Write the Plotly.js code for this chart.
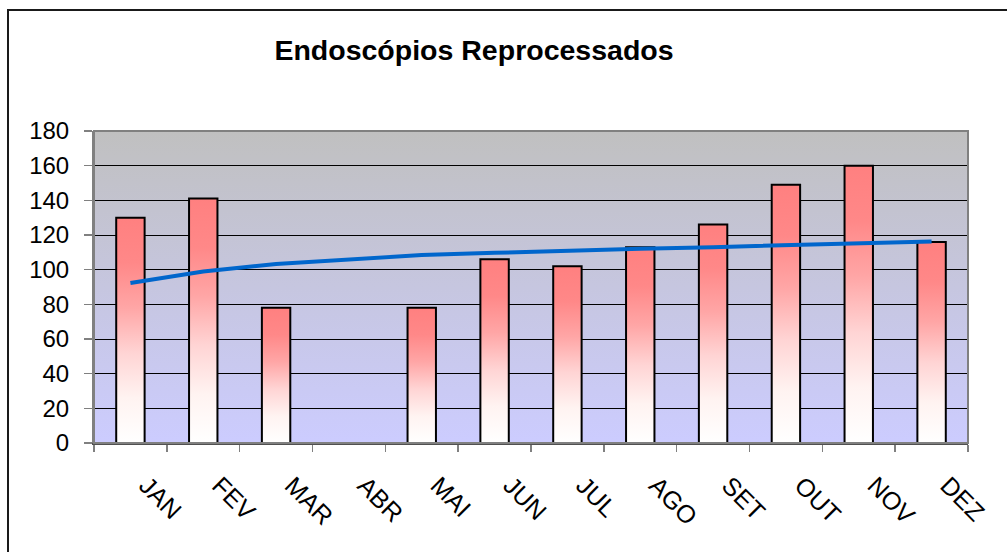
<!DOCTYPE html>
<html>
<head>
<meta charset="utf-8">
<script src="https://cdn.plot.ly/plotly-3.0.1.min.js"></script>
<style>
  html, body { margin: 0; padding: 0; background: #ffffff; }
  #chart { width: 1007px; height: 552px; }
</style>
</head>
<body>
<div id="chart"></div>
<script>
// ---- data ----
var months = ["JAN", "FEV", "MAR", "ABR", "MAI", "JUN", "JUL", "AGO", "SET", "OUT", "NOV", "DEZ"];
var reprocessados = [130, 141, 78, null, 78, 106, 102, 113, 126, 149, 160, 116];
var tendencia = [92.3, 98.9, 103.3, 106.0, 108.4, 109.7, 111.0, 112.0, 113.0, 114.2, 115.2, 116.3];
var yTicks = [0, 20, 40, 60, 80, 100, 120, 140, 160, 180];
var chartTitle = "Endoscópios Reprocessados";

// ---- styling ----
var FONT = "Arial, 'Liberation Sans', Helvetica, sans-serif";
var halfBar = 0.195;
var centers = months.map(function (m, i) { return i + 0.5; });
var boundaries = months.map(function (m, i) { return i; }).concat([months.length]);

var barScale = [
  [0.0, "#FFFFFF"],
  [0.2, "#FFF3F1"],
  [0.4, "#FFD4D4"],
  [0.6, "#FFA6A6"],
  [0.8, "#FF8888"],
  [1.0, "#FF8080"]
];

var traces = [];
reprocessados.forEach(function (v, i) {
  if (v === null || v === undefined) return;
  var c = centers[i];
  traces.push({
    type: "scatter",
    mode: "lines",
    x: [c - halfBar, c - halfBar, c + halfBar, c + halfBar, c - halfBar],
    y: [0, v, v, 0, 0],
    fill: "toself",
    fillgradient: { type: "vertical", colorscale: barScale },
    line: { color: "#000000", width: 2 },
    hoverinfo: "skip",
    showlegend: false,
    xaxis: "x",
    yaxis: "y"
  });
});

traces.push({
  type: "scatter",
  mode: "lines",
  x: centers,
  y: tendencia,
  line: { color: "#0066CC", width: 4 },
  hoverinfo: "skip",
  showlegend: false,
  xaxis: "x2",
  yaxis: "y"
});

var bgSvg = "<svg xmlns='http://www.w3.org/2000/svg' width='10' height='100' preserveAspectRatio='none'>" +
  "<defs><linearGradient id='g' x1='0' y1='0' x2='0' y2='1'>" +
  "<stop offset='0' stop-color='#C0C0C0'/><stop offset='1' stop-color='#CCCCFF'/>" +
  "</linearGradient></defs><rect width='10' height='100' fill='url(#g)'/></svg>";
var bgSrc = "data:image/svg+xml;charset=utf-8," + encodeURIComponent(bgSvg);

var mL = 94, mR = 39, mT = 131, mB = 109;
var pw = 1007 - mL - mR, ph = 552 - mT - mB;

var layout = {
  width: 1007,
  height: 552,
  margin: { l: mL, r: mR, t: mT, b: mB, pad: 0 },
  paper_bgcolor: "#FFFFFF",
  plot_bgcolor: "rgba(0,0,0,0)",
  showlegend: false,
  font: { family: FONT, color: "#000000", size: 24 },
  title: {
    text: chartTitle,
    font: { family: FONT, size: 28.5, weight: "bold", color: "#000000" },
    xref: "container", yref: "container",
    x: 474 / 1007, xanchor: "center",
    y: 1 - 50 / 552, yanchor: "middle"
  },
  xaxis: {
    range: [0, months.length],
    tickmode: "array",
    tickvals: boundaries,
    showticklabels: false,
    ticks: "outside",
    ticklen: 7,
    tickwidth: 1.5,
    tickcolor: "#808080",
    showline: true,
    linecolor: "#505050",
    linewidth: 2,
    showgrid: false,
    zeroline: false,
    fixedrange: true
  },
  xaxis2: {
    overlaying: "x",
    anchor: "y",
    side: "bottom",
    range: [0, months.length],
    tickmode: "array",
    tickvals: centers,
    ticktext: months,
    tickangle: 45,
    ticks: "",
    ticklabelstandoff: 22,
    ticklabelshift: 16,
    tickfont: { family: FONT, size: 25, color: "#000000" },
    showline: false,
    showgrid: false,
    zeroline: false,
    fixedrange: true
  },
  yaxis: {
    range: [0, 180],
    tickmode: "array",
    tickvals: yTicks,
    ticks: "outside",
    ticklen: 8,
    tickwidth: 1.5,
    tickcolor: "#808080",
    ticklabelstandoff: 10,
    tickfont: { family: FONT, size: 24, color: "#000000" },
    showline: true,
    linecolor: "#808080",
    linewidth: 2,
    showgrid: true,
    gridcolor: "#000000",
    gridwidth: 1,
    zeroline: false,
    fixedrange: true
  },
  images: [{
    source: bgSrc,
    xref: "paper", yref: "paper",
    x: 0, y: 1, sizex: 1, sizey: 1,
    xanchor: "left", yanchor: "top",
    sizing: "stretch",
    layer: "below"
  }],
  shapes: [
    {
      type: "rect", xref: "paper", yref: "paper",
      x0: 0, x1: 1, y0: 0, y1: 1,
      line: { color: "#808080", width: 2 },
      fillcolor: "rgba(0,0,0,0)",
      layer: "above"
    },
    {
      type: "rect", xref: "paper", yref: "paper",
      x0: (8 - mL) / pw, x1: 1.2,
      y0: -0.6, y1: (552 - mB - 10) / ph,
      line: { color: "#1A1A1A", width: 2 },
      fillcolor: "rgba(0,0,0,0)",
      layer: "above"
    }
  ]
};

Plotly.newPlot("chart", traces, layout, { displayModeBar: false, staticPlot: true });
</script>
</body>
</html>
